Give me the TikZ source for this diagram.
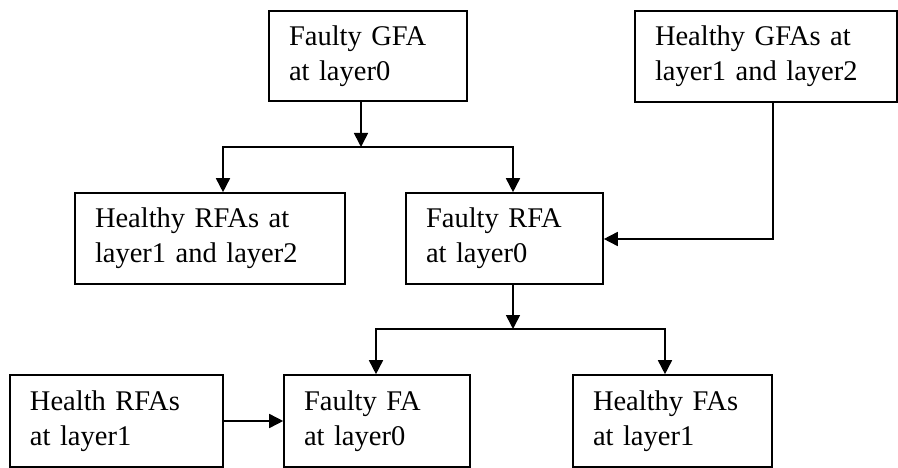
\documentclass[tikz,border=0pt]{standalone}
\usepackage{fontspec}
\setmainfont{Liberation Serif}
\usetikzlibrary{arrows.meta}

\begin{document}
\begin{tikzpicture}
  [x=1pt,y=-1pt,line width=1.6pt,
   box/.style={draw,rectangle,inner xsep=20pt,inner ysep=0pt,align=left,
     font=\fontsize{28.5}{35}\selectfont},
   arr/.style={-{Triangle[width=14pt,length=14pt]}}]
  \useasboundingbox (0,0) rectangle (898,468);
  \node[box,text width=158pt,minimum height=90pt] (gfa) at (368,56) {Faulty GFA\\at layer0};
  \node[box,text width=222pt,minimum height=91pt] (hgfa) at (766,56.5) {Healthy GFAs at\\layer1 and layer2};
  \node[box,text width=230pt,minimum height=91pt] (hrfa) at (210,238.5) {Healthy RFAs at\\layer1 and layer2};
  \node[box,text width=157pt,minimum height=91pt] (frfa) at (504.5,238.5) {Faulty RFA\\at layer0};
  \node[box,text width=173pt,minimum height=92pt] (hrfa1) at (116.5,421) {Health RFAs\\at layer1};
  \node[box,text width=146pt,minimum height=92pt] (ffa) at (377,421) {Faulty FA\\at layer0};
  \node[box,text width=159pt,minimum height=92pt] (hfa) at (672.5,421) {Healthy FAs\\at layer1};

  \coordinate (t1) at (361,147);
  \coordinate (t1l) at (223,147);
  \coordinate (t1r) at (513,147);
  \coordinate (t2) at (513,329);
  \coordinate (t2l) at (376,329);
  \coordinate (t2r) at (665,329);
  \coordinate (c1) at (773,239);

  \draw[arr] (t1 |- gfa.south) -- (t1);
  \draw[arr] (t1) -| (t1l |- hrfa.north);
  \draw[arr] (t1) -| (t1r |- frfa.north);
  \draw[arr] (t2 |- frfa.south) -- (t2);
  \draw[arr] (t2) -| (t2l |- ffa.north);
  \draw[arr] (t2) -| (t2r |- hfa.north);
  \draw[arr] (c1 |- hgfa.south) -- (c1) -- (frfa.east |- c1);
  \draw[arr] (hrfa1.east) -- (ffa.west);

\end{tikzpicture}
\end{document}
